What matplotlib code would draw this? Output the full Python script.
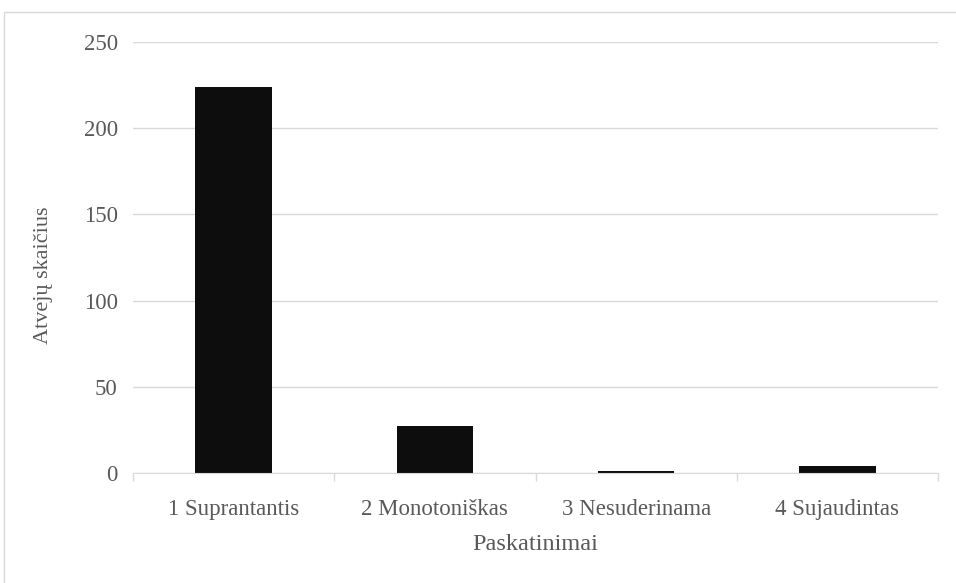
import matplotlib

matplotlib.use("Agg")
import matplotlib.pyplot as plt
from matplotlib.patches import Rectangle
from matplotlib.ticker import FixedLocator, NullFormatter

categories = ["1 Suprantantis", "2 Monotoniškas", "3 Nesuderinama", "4 Sujaudintas"]
counts = [224, 27, 1, 4]
yticks = [0, 50, 100, 150, 200, 250]

TEXT = "#595959"
GRID = "#d9d9d9"

plt.rcParams["font.family"] = ["Liberation Serif", "DejaVu Serif"]

fig = plt.figure(figsize=(9.56, 5.83), dpi=100)
fig.patches.append(
    Rectangle((4 / 956, -0.1), 1.2, 0.1 + (583 - 12) / 583, transform=fig.transFigure,
              fill=False, edgecolor=GRID, linewidth=1.0)
)
ax = fig.add_axes([133 / 956, 110 / 583, (938 - 133) / 956, (473 - 42) / 583])

x = list(range(len(categories)))
ax.bar(x, counts, width=0.38, color="#0d0d0d", zorder=3)

ax.set_xlim(-0.5, len(categories) - 0.5)
ax.set_ylim(0, 250)
ax.set_yticks(yticks)
ax.yaxis.grid(True, color=GRID, linewidth=1.0, zorder=0)
ax.set_xticks(x)
ax.set_xticklabels(categories)
ax.xaxis.set_minor_locator(FixedLocator([i + 0.5 for i in range(-1, len(categories))]))
ax.xaxis.set_minor_formatter(NullFormatter())
ax.tick_params(axis="x", which="major", length=0, pad=19, labelsize=16.5, labelcolor=TEXT)
ax.tick_params(axis="x", which="minor", length=6, color=GRID, width=1.0)
ax.tick_params(axis="y", length=0, pad=11, labelsize=16.5, labelcolor=TEXT)

for side in ["top", "right", "left"]:
    ax.spines[side].set_visible(False)
ax.spines["bottom"].set_color(GRID)
ax.spines["bottom"].set_zorder(4)

ax.set_xlabel("Paskatinimai", fontsize=17.5, color=TEXT, labelpad=10)
ax.set_ylabel("Atvejų skaičius", fontsize=16, color=TEXT)
ax.yaxis.set_label_coords(-0.099, 0.459)

fig.savefig("out.png", dpi=100)
